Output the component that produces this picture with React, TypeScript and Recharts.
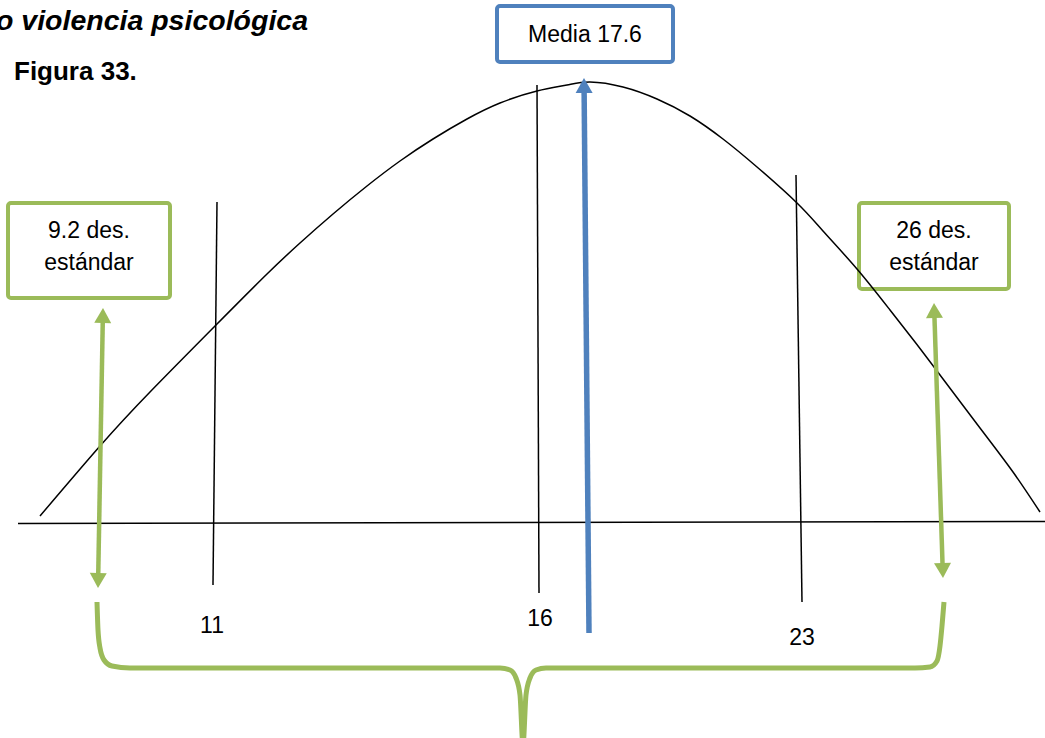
import React from 'react'
import {
  ComposedChart, Line, XAxis, YAxis, ReferenceLine, ReferenceArea, ReferenceDot
} from 'recharts'

const FONT = '"Liberation Sans", Arial, sans-serif'
const GREEN = '#9BBB59'
const BLUE = '#4F81BD'

// horizontal unit = position across the figure, vertical unit = height above the base line
const X_DOMAIN = [0, 1045]
const Y_DOMAIN = [-216, 522]

// curva normal
const curveX = [40, 100, 150, 217, 267, 300, 333, 367, 400, 433, 467, 500, 537, 567, 590, 623, 657, 690, 723, 757, 797, 823, 857, 890, 915, 937, 980, 1013, 1040]
const curveH = [6, 76, 130, 198, 248, 279, 308, 336, 361, 383, 403, 419, 431, 437, 440, 435, 423, 406, 383, 355, 319, 291, 253, 212, 180, 151, 94, 50, 10]

// línea base
const baseX = [18, 1045]
const baseH = [-1.5, 0.5]

// marcas verticales 11 / 16 / 23
const markLabels = ['11', '16', '23']
const markTopX = [217, 537, 796]
const markTopH = [320, 437, 347]
const markBottomX = [213, 539, 802]
const markBottomH = [-63, -71, -80]
const markLabelX = [212, 540, 802]
const markLabelH = [-103, -96, -115]

// media
const meanLabel = 'Media 17.6'
const meanBox = { x1: 497, x2: 673, h1: 460, h2: 516 }
const meanArrow = [{ x: 589, h: -111 }, { x: 584, h: 444 }]

// desviaciones estándar
const stdLabels = [['9.2 des.', 'estándar'], ['26 des.', 'estándar']]
const stdBoxX1 = [8, 859]
const stdBoxX2 = [170, 1009]
const stdBoxH1 = [224, 233]
const stdBoxH2 = [319, 319]
const stdArrowTop = [{ x: 103, h: 214 }, { x: 934, h: 219 }]
const stdArrowBottom = [{ x: 98, h: -66 }, { x: 943, h: -56 }]

// llave inferior
const braceX = [97, 98, 100, 104, 112, 130, 500, 510, 516, 520, 523, 526, 530, 536, 546, 915, 930, 937, 940, 942, 944]
const braceH = [-80, -108, -126, -138, -144, -146, -146, -148, -156, -173, -223, -173, -156, -148, -146, -146, -145, -139, -124, -104, -80]

const curveData = curveX.map((x, i) => ({ x, h: curveH[i] }))
const baseData = baseX.map((x, i) => ({ x, h: baseH[i] }))
const braceData = braceX.map((x, i) => ({ x, h: braceH[i] }))

function arrowShape(color: string, width: number, both: boolean) {
  return (p: any) => {
    const { x1, y1, x2, y2 } = p
    const len = Math.hypot(x2 - x1, y2 - y1) || 1
    const ux = (x2 - x1) / len
    const uy = (y2 - y1) / len
    const hl = 15
    const hw = 8.5
    const head = (tx: number, ty: number, dx: number, dy: number) => {
      const bx = tx - dx * hl
      const by = ty - dy * hl
      return `${tx},${ty} ${bx - dy * hw},${by + dx * hw} ${bx + dy * hw},${by - dx * hw}`
    }
    return (
      <g>
        <line
          x1={both ? x1 + ux * hl * 0.8 : x1}
          y1={both ? y1 + uy * hl * 0.8 : y1}
          x2={x2 - ux * hl * 0.8}
          y2={y2 - uy * hl * 0.8}
          stroke={color}
          strokeWidth={width}
        />
        <polygon points={head(x2, y2, ux, uy)} fill={color} />
        {both && <polygon points={head(x1, y1, -ux, -uy)} fill={color} />}
      </g>
    )
  }
}

// texto dentro de los recuadros
function boxText(lines: string[]) {
  return (props: any) => {
    const { x, y, width, height } = props.viewBox
    const cx = x + width / 2
    const lh = 32
    const first = lines.length > 1 ? y + 27 : y + height / 2
    return (
      <text textAnchor="middle" fontSize={23} fontFamily={FONT} fill="#000">
        {lines.map((l, i) => (
          <tspan key={i} x={cx} y={first + i * lh + 8}>{l}</tspan>
        ))}
      </text>
    )
  }
}

export default function App() {
  return (
    <div style={{ position: 'absolute', left: 0, top: 0, width: 1045, height: 738, background: '#fff' }}>
      <ComposedChart width={1045} height={738} margin={{ top: 0, right: 0, bottom: 0, left: 0 }}>
        <XAxis type="number" dataKey="x" domain={X_DOMAIN} allowDataOverflow hide />
        <YAxis type="number" dataKey="h" domain={Y_DOMAIN} allowDataOverflow hide />

        {stdLabels.map((lines, i) => (
          <ReferenceArea
            key={lines[0]}
            x1={stdBoxX1[i]} x2={stdBoxX2[i]} y1={stdBoxH1[i]} y2={stdBoxH2[i]}
            fill="none" fillOpacity={0} stroke={GREEN} strokeWidth={4} radius={3}
            ifOverflow="visible"
            label={boxText(lines)}
          />
        ))}
        <ReferenceArea
          x1={meanBox.x1} x2={meanBox.x2} y1={meanBox.h1} y2={meanBox.h2}
          fill="none" fillOpacity={0} stroke={BLUE} strokeWidth={4} radius={3}
          ifOverflow="visible"
          label={boxText([meanLabel])}
        />

        {markLabels.map((m, i) => (
          <ReferenceLine
            key={m}
            segment={[{ x: markBottomX[i], y: markBottomH[i] }, { x: markTopX[i], y: markTopH[i] }]}
            stroke="#000" strokeWidth={1.5} ifOverflow="visible"
          />
        ))}

        <Line data={baseData} dataKey="h" type="linear" stroke="#000" strokeWidth={1.5} dot={false} activeDot={false} isAnimationActive={false} />
        <Line data={curveData} dataKey="h" type="natural" stroke="#000" strokeWidth={1.5} dot={false} activeDot={false} isAnimationActive={false} />

        {stdArrowTop.map((t, i) => (
          <ReferenceLine
            key={'a' + i}
            segment={[{ x: stdArrowBottom[i].x, y: stdArrowBottom[i].h }, { x: t.x, y: t.h }]}
            ifOverflow="visible"
            shape={arrowShape(GREEN, 4.5, true)}
          />
        ))}
        <ReferenceLine
          segment={[{ x: meanArrow[0].x, y: meanArrow[0].h }, { x: meanArrow[1].x, y: meanArrow[1].h }]}
          ifOverflow="visible"
          shape={arrowShape(BLUE, 5.5, false)}
        />

        <Line data={braceData} dataKey="h" type="monotone" stroke={GREEN} strokeWidth={5} dot={false} activeDot={false} isAnimationActive={false} />

        {markLabels.map((m, i) => (
          <ReferenceDot
            key={'l' + m}
            x={markLabelX[i]} y={markLabelH[i]} r={0} fill="none" stroke="none" ifOverflow="visible"
            label={{ value: m, position: 'center', fontSize: 23, fontFamily: FONT, fill: '#000' }}
          />
        ))}
      </ComposedChart>
      <svg width={1045} height={738} style={{ position: 'absolute', left: 0, top: 0, pointerEvents: 'none' }}>
        <text x={308} y={30} textAnchor="end" fontSize={28.5} fontWeight="bold" fontStyle="italic" fontFamily={FONT} fill="#000">
          o violencia psicológica
        </text>
        <text x={14} y={80} fontSize={26} fontWeight="bold" fontFamily={FONT} fill="#000">
          Figura 33.
        </text>
      </svg>
    </div>
  )
}
